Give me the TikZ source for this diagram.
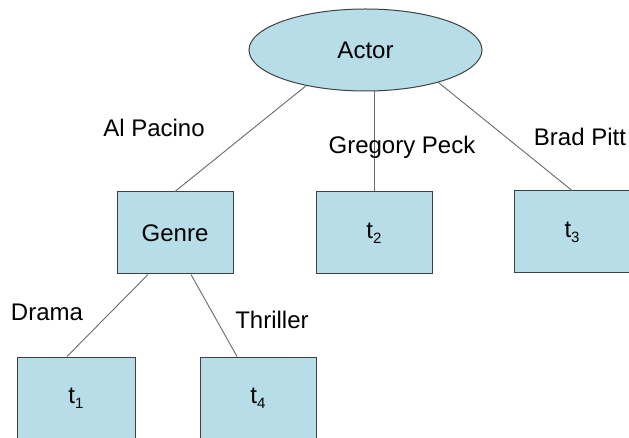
\documentclass[tikz,border=0pt]{standalone}
\usepackage{fontspec}
\setmainfont{Liberation Sans}
\usetikzlibrary{shapes.geometric,calc}
\definecolor{boxfill}{HTML}{B7DEE8}
\definecolor{boxline}{HTML}{404040}
\definecolor{edgeline}{HTML}{6A6A6A}
\newcommand\tsub[1]{t\raisebox{-5pt}{\fontsize{15}{15}\selectfont #1}}
\begin{document}
\begin{tikzpicture}[x=1pt,y=-1pt,
  every node/.style={font=\fontsize{24}{28}\selectfont, text=black},
  entity/.style={ellipse, draw=boxline, fill=boxfill, line width=1pt,
    minimum width=233pt, minimum height=82pt, inner sep=0pt},
  valbox/.style={rectangle, draw=boxline, fill=boxfill, line width=1pt,
    minimum width=116pt, minimum height=82pt, inner sep=0pt},
  edge/.style={draw=edgeline, line width=0.9pt},
  elabel/.style={anchor=base, inner sep=0pt}]
\useasboundingbox (0,0) rectangle (629,438);
\clip (0,0) rectangle (629,438);
\fill[white] (0,0) rectangle (629,438);
% nodes
\node[entity] (actor) at (365.5,50) {Actor};
\node[valbox] (genre) at (175,233) {Genre};
\node[valbox] (t2) at (374,233) {\tsub{2}};
\node[valbox] (t3) at (572,232) {\tsub{3}};
\node[valbox, minimum width=118pt] (t1) at (76,398) {\tsub{1}};
\node[valbox] (t4) at (258,398) {\tsub{4}};
% connectors
\draw[edge] (actor.211) -- (genre.north);
\draw[edge] (t2.north) -- (t2.north |- actor.south);
\draw[edge] (actor.336) -- (t3.north);
\draw[edge] ($(genre.south)+(-27,0)$) -- ($(t1.north)+(-9,0)$);
\draw[edge] ($(genre.south)+(16,0)$) -- ($(t4.north)+(-21,0)$);
% labels
\node[elabel] (lal) at (154,137) {Al Pacino};
\node[elabel] (lgp) at (402,154) {Gregory Peck};
\node[elabel] (lbp) at (580,146) {Brad Pitt};
\node[elabel] (ldr) at (47,320) {Drama};
\node[elabel] (lth) at (272,328) {Thriller};
\end{tikzpicture}
\end{document}
